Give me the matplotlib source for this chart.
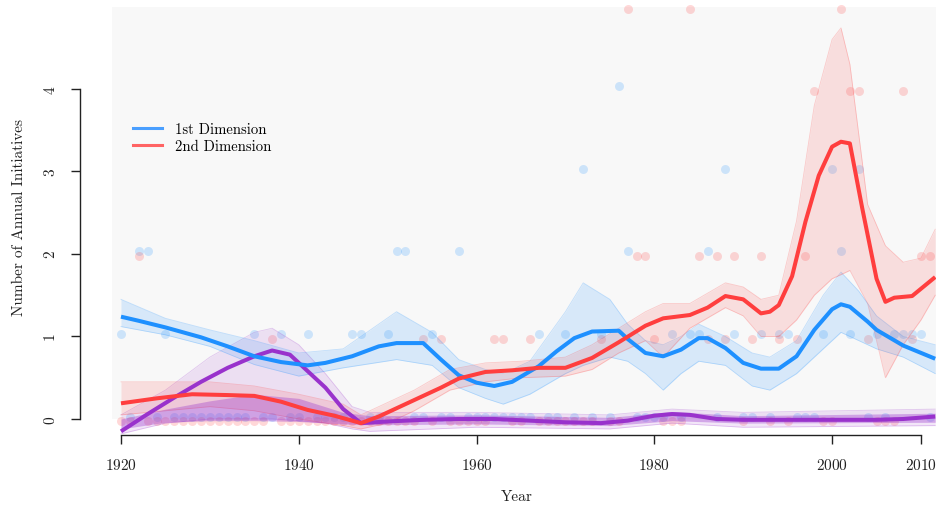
import numpy as np
import matplotlib
matplotlib.use("Agg")
import matplotlib.pyplot as plt
from matplotlib.lines import Line2D
from matplotlib.patches import Rectangle

plt.rcParams["font.family"] = ["cmr10", "DejaVu Serif"]
plt.rcParams["mathtext.fontset"] = "cm"
plt.rcParams["axes.formatter.use_mathtext"] = True

BLUE   = "#1E90FF"
RED    = "#FF3E3E"
PURPLE = "#9932CC"
INK    = "#222222"
BG     = "#F8F8F8"

# --- main (mean) lines
blue_years = [1920, 1922, 1925, 1929, 1932, 1935, 1938, 1941, 1943, 1946, 1949, 1951,
              1954, 1956, 1958, 1960, 1962, 1964, 1967, 1969, 1971, 1973, 1976, 1977,
              1979, 1981, 1983, 1985, 1986, 1988, 1990, 1992, 1994, 1996, 1998, 2000,
              2001, 2002, 2004, 2005, 2008, 2011.6]
blue_vals = [1.24, 1.19, 1.11, 0.99, 0.88, 0.76, 0.69, 0.65, 0.68, 0.76, 0.88, 0.92,
             0.92, 0.72, 0.53, 0.44, 0.40, 0.45, 0.64, 0.82, 0.98, 1.06, 1.07, 0.97,
             0.80, 0.76, 0.84, 0.98, 0.98, 0.86, 0.68, 0.61, 0.61, 0.76, 1.08, 1.33,
             1.39, 1.36, 1.18, 1.08, 0.89, 0.73]

red_years = [1920, 1924, 1928, 1932, 1935, 1938, 1941, 1944, 1947, 1949, 1951, 1953,
             1956, 1958, 1961, 1964, 1967, 1970, 1973, 1976, 1979, 1981, 1984, 1986,
             1988, 1990, 1992, 1993, 1994, 1995.5, 1997, 1998.5, 2000, 2001, 2002,
             2003.4, 2005, 2006, 2007, 2009, 2011.6]
red_vals = [0.19, 0.25, 0.30, 0.29, 0.28, 0.21, 0.11, 0.04, -0.05, 0.03, 0.13, 0.23,
            0.38, 0.49, 0.57, 0.59, 0.62, 0.62, 0.74, 0.93, 1.13, 1.22, 1.26, 1.35,
            1.49, 1.45, 1.28, 1.30, 1.38, 1.73, 2.39, 2.95, 3.30, 3.36, 3.34,
            2.55, 1.70, 1.42, 1.47, 1.49, 1.72]

purple_years = [1920, 1923, 1926, 1929, 1932, 1935, 1937, 1939, 1941, 1943, 1945, 1947,
                1950, 1954, 1958, 1962, 1966, 1970, 1974, 1977, 1980, 1982, 1984, 1987,
                1990, 1995, 2000, 2005, 2008, 2011.6]
purple_vals = [-0.15, 0.06, 0.26, 0.45, 0.62, 0.76, 0.83, 0.78, 0.58, 0.38, 0.12, -0.05,
               -0.03, -0.01, 0.0, 0.0, -0.02, -0.04, -0.05, -0.02, 0.04, 0.06, 0.05, 0.0,
               -0.01, -0.01, -0.01, -0.01, 0.0, 0.03]

# --- spread of the thin draws (low / high envelope)
blue_env_years = [1920, 1925, 1930, 1935, 1940, 1945, 1951, 1955, 1958, 1961, 1963, 1966,
                  1970, 1972, 1975, 1977, 1979, 1981, 1983, 1985, 1988, 1991, 1993, 1996,
                  1999, 2001, 2003, 2005, 2008, 2011.6]
blue_lo = [1.12, 1.02, 0.88, 0.66, 0.52, 0.62, 0.72, 0.65, 0.38, 0.25, 0.18, 0.30,
           0.55, 0.65, 0.75, 0.70, 0.55, 0.35, 0.55, 0.70, 0.65, 0.40, 0.35, 0.55,
           0.85, 1.05, 0.95, 0.85, 0.75, 0.55]
blue_hi = [1.45, 1.22, 1.08, 0.95, 0.80, 0.85, 1.30, 1.05, 0.72, 0.60, 0.55, 0.70,
           1.30, 1.65, 1.45, 1.15, 0.95, 0.90, 1.00, 1.15, 1.00, 0.80, 0.75, 0.95,
           1.50, 1.78, 1.55, 1.25, 1.00, 0.90]

red_env_years = [1920, 1925, 1930, 1935, 1940, 1945, 1947, 1950, 1953, 1957, 1961, 1965,
                 1970, 1973, 1976, 1979, 1981, 1984, 1988, 1990, 1992, 1994, 1996, 1998,
                 2000, 2001, 2002, 2004, 2006, 2008, 2010, 2011.6]
red_lo = [0.05, 0.10, 0.15, 0.10, 0.00, -0.08, -0.12, -0.05, 0.10, 0.35, 0.45, 0.50,
          0.52, 0.60, 0.80, 0.95, 0.75, 1.10, 1.35, 1.25, 1.00, 1.00, 1.20, 1.50,
          1.70, 1.75, 1.80, 1.40, 0.50, 0.90, 1.20, 1.50]
red_hi = [0.45, 0.45, 0.45, 0.40, 0.30, 0.18, 0.05, 0.20, 0.35, 0.60, 0.68, 0.70,
          0.75, 0.90, 1.10, 1.30, 1.40, 1.40, 1.65, 1.60, 1.45, 1.50, 2.40, 3.80,
          4.60, 4.74, 4.30, 2.60, 2.10, 1.90, 1.95, 2.30]

purple_env_years = [1920, 1925, 1930, 1935, 1937, 1940, 1943, 1946, 1948, 1960, 1975,
                    1982, 1990, 2011.6]
purple_lo = [-0.18, -0.05, 0.00, 0.00, 0.00, -0.02, -0.05, -0.12, -0.15, -0.10, -0.12,
             -0.05, -0.10, -0.08]
purple_hi = [0.05, 0.35, 0.75, 1.05, 1.10, 0.90, 0.55, 0.15, 0.08, 0.08, 0.05,
             0.12, 0.08, 0.12]

# dense core of the purple draws, hugging zero
purple_core_years = [1920, 1925, 1930, 1935, 1940, 1945, 1948, 1960, 1975, 1982, 1990,
                     2011.6]
purple_core_lo = [-0.12, -0.04, -0.02, -0.02, -0.03, -0.06, -0.07, -0.06, -0.08,
                  -0.02, -0.05, -0.04]
purple_core_hi = [0.00, 0.12, 0.22, 0.30, 0.25, 0.08, 0.04, 0.05, 0.02, 0.09, 0.04, 0.07]

# --- annual counts (points)
count_years = list(range(1920, 2012))
blue_counts = {1920: 1, 1922: 2, 1923: 2, 1925: 1, 1935: 1, 1938: 1, 1941: 1,
               1946: 1, 1947: 1, 1950: 1, 1951: 2, 1952: 2, 1955: 1, 1958: 2,
               1967: 1, 1970: 1, 1972: 3, 1974: 1, 1976: 4, 1977: 2, 1982: 1,
               1984: 1, 1985: 1, 1986: 2, 1988: 3, 1989: 1, 1992: 1, 1994: 1,
               1995: 1, 1999: 1, 2000: 3, 2001: 2, 2002: 1, 2003: 3, 2005: 1,
               2007: 1, 2008: 1, 2009: 1, 2010: 1}
red_counts = {1922: 2, 1937: 1, 1954: 1, 1956: 1, 1962: 1, 1963: 1, 1966: 1,
              1974: 1, 1977: 5, 1978: 2, 1979: 2, 1980: 1, 1984: 5, 1985: 2,
              1986: 1, 1987: 2, 1988: 1, 1989: 2, 1991: 1, 1992: 2, 1994: 1,
              1996: 1, 1997: 2, 1998: 4, 2001: 5, 2002: 4, 2003: 4, 2004: 1,
              2008: 4, 2009: 1, 2010: 2, 2011: 2}

legend_labels = ["1st Dimension", "2nd Dimension"]

fig = plt.figure(figsize=(9.36, 5.10), dpi=100)
ax = fig.add_axes([80 / 936, 74 / 510, 856 / 936, 436 / 510])
ax.set_xlim(1915.39, 2011.69)
ax.set_ylim(-0.194, 5.09)

ax.add_patch(Rectangle((1919, 0), 100, 4.99, facecolor=BG, edgecolor="none", zorder=0))

bc = [blue_counts.get(y, 0) for y in count_years]
rc = [red_counts.get(y, 0) for y in count_years]
ax.scatter(count_years, np.array(bc) + 0.03, s=42, color=BLUE, alpha=0.2,
           linewidths=0, zorder=1)
ax.scatter(count_years, np.array(rc) - 0.03, s=42, color=RED, alpha=0.2,
           linewidths=0, zorder=1)

for yrs, lo, hi, col, a in [(purple_env_years, purple_lo, purple_hi, PURPLE, 0.12),
                            (blue_env_years, blue_lo, blue_hi, BLUE, 0.15),
                            (red_env_years, red_lo, red_hi, RED, 0.14)]:
    ax.fill_between(yrs, lo, hi, color=col, alpha=a, linewidth=0, zorder=2)
    ax.plot(yrs, lo, color=col, alpha=0.25, linewidth=0.6, zorder=2)
    ax.plot(yrs, hi, color=col, alpha=0.25, linewidth=0.6, zorder=2)

ax.fill_between(purple_core_years, purple_core_lo, purple_core_hi, color=PURPLE,
                alpha=0.35, linewidth=0, zorder=2)

ax.plot(purple_years, purple_vals, color=PURPLE, linewidth=2.9, zorder=3,
        solid_capstyle="butt")
ax.plot(blue_years, blue_vals, color=BLUE, linewidth=2.9, zorder=4,
        solid_capstyle="butt")
ax.plot(red_years, red_vals, color=RED, linewidth=2.9, zorder=5,
        solid_capstyle="butt")

for s in ["top", "right"]:
    ax.spines[s].set_visible(False)
ax.spines["left"].set_bounds(0, 4)
ax.spines["bottom"].set_bounds(1920, 2010)
for s in ["left", "bottom"]:
    ax.spines[s].set_color(INK)
    ax.spines[s].set_linewidth(1.0)

ax.set_xticks([1920, 1940, 1960, 1980, 2000, 2010])
ax.set_yticks([0, 1, 2, 3, 4])
ax.tick_params(axis="both", direction="out", length=6.5, width=1.0, color=INK,
               labelsize=11, labelcolor=INK, pad=9)
for lab in ax.get_yticklabels():
    lab.set_rotation(90)
    lab.set_va("center")

ax.set_xlabel("Year", fontsize=11, color=INK)
ax.xaxis.set_label_coords((517 - 80) / 856, -(497 - 436) / 436)
ax.xaxis.label.set_va("center")
ax.set_ylabel("Number of Annual Initiatives", fontsize=11, color=INK)
ax.yaxis.set_label_coords(-(80 - 26) / 856, 0.5)

handles = [Line2D([], [], color="#4A9FFF", linewidth=2.2),
           Line2D([], [], color="#FF6464", linewidth=2.2)]
ax.legend(handles, legend_labels, loc="upper left", frameon=False, fontsize=10.6,
          bbox_to_anchor=((133 - 80) / 856, (436 - 123) / 436),
          borderpad=0, borderaxespad=0, handlelength=2.0, handletextpad=0.85,
          labelspacing=0.25)

fig.savefig("out.png", dpi=100, facecolor="white")
